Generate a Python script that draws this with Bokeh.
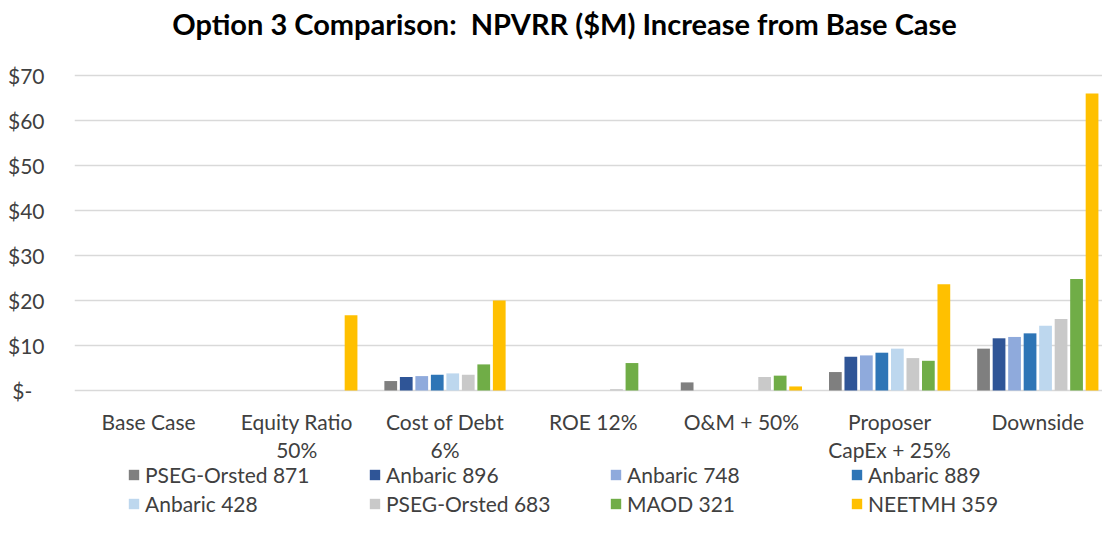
from bokeh.plotting import figure
from bokeh.models import Range1d, FixedTicker, Legend, LegendItem, ColumnDataSource
from bokeh.embed import file_html
from bokeh.resources import INLINE

# ---- data ----
categories = ["Base Case", "Equity Ratio\n50%", "Cost of Debt\n6%", "ROE 12%",
              "O&M + 50%", "Proposer\nCapEx + 25%", "Downside"]
series_names = ["PSEG-Orsted 871", "Anbaric 896", "Anbaric 748", "Anbaric 889",
                "Anbaric 428", "PSEG-Orsted 683", "MAOD 321", "NEETMH 359"]
pseg_orsted_871 = [0, 0, 2.1, 0, 1.8, 4.1, 9.3]
anbaric_896 = [0, 0, 3.0, 0, 0, 7.5, 11.6]
anbaric_748 = [0, 0, 3.2, 0, 0, 7.8, 11.9]
anbaric_889 = [0, 0, 3.5, 0, 0, 8.4, 12.7]
anbaric_428 = [0, 0, 3.8, 0, 0, 9.3, 14.4]
pseg_orsted_683 = [0, 0, 3.5, 0.3, 3.0, 7.2, 15.9]
maod_321 = [0, 0, 5.8, 6.1, 3.3, 6.6, 24.8]
neetmh_359 = [0, 16.7, 20.0, 0, 0.9, 23.6, 66.0]
series_values = [pseg_orsted_871, anbaric_896, anbaric_748, anbaric_889,
                 anbaric_428, pseg_orsted_683, maod_321, neetmh_359]
colors = ["#7f7f7f", "#2f5597", "#8faadc", "#2e75b6",
          "#bdd7ee", "#c9c9c9", "#70ad47", "#ffc000"]
y_ticks = [0, 10, 20, 30, 40, 50, 60, 70]
y_tick_labels = ["$-\u2007", "$10", "$20", "$30", "$40", "$50", "$60", "$70"]
title_text = "Option 3 Comparison:\u00a0 NPVRR ($M) Increase from Base Case"

FONT = "Lato"
TXT = "#404040"
STEP = 0.1046
BARW = 0.086
W, H = 1102, 544
LEFT = 74
PX_PER_CAT = 148.2
ZERO_Y, TOP_Y = 390, 75           # pixel rows of $0 and $70
PX_PER_UNIT = (ZERO_Y - TOP_Y) / 70.0

p = figure(width=W, height=H, output_backend="svg", toolbar_location=None,
           x_range=Range1d(0, (W - LEFT) / PX_PER_CAT),
           y_range=Range1d(-(H - ZERO_Y) / PX_PER_UNIT, 70 + TOP_Y / PX_PER_UNIT),
           min_border_left=LEFT, min_border_right=0, min_border_top=0,
           min_border_bottom=0)
p.outline_line_color = None
p.background_fill_color = "white"
p.xaxis.visible = False

items = []
for k, (name, vals, col) in enumerate(zip(series_names, series_values, colors)):
    xs = [i + 0.5 + (k - 3.5) * STEP for i in range(len(categories))]
    src = ColumnDataSource(dict(x=xs, top=vals))
    r = p.vbar(x="x", top="top", width=BARW, bottom=0, source=src,
               fill_color=col, line_color=None)
    items.append(LegendItem(label=name, renderers=[r]))

# category labels under the bars
cat_src = ColumnDataSource(dict(x=[i + 0.5 for i in range(len(categories))],
                                text=categories))
p.text(x="x", y=-4.0, text="text", source=cat_src, text_align="center",
       text_baseline="top", text_font_size="21px", text_color=TXT,
       text_line_height=1.12, text_font={"value": FONT})

# title
p.text(x=[(564 - LEFT) / PX_PER_CAT], y=[(ZERO_Y - 23) / PX_PER_UNIT],
       text=[title_text], text_align="center", text_baseline="middle",
       text_font_size="29px", text_font_style="bold", text_color="black",
       text_font={"value": FONT})

ya = p.yaxis[0]
ya.ticker = FixedTicker(ticks=y_ticks)
ya.major_label_overrides = {t: l for t, l in zip(y_ticks, y_tick_labels)}
ya.axis_line_color = None
ya.major_tick_line_color = None
ya.minor_tick_line_color = None
ya.major_label_text_font = FONT
ya.major_label_text_font_size = "21px"
ya.major_label_text_color = TXT
ya.major_label_standoff = 24

p.xgrid.visible = False
p.ygrid.grid_line_color = "#d9d9d9"
p.ygrid.grid_line_width = 1.5

legend = Legend(items=items, orientation="horizontal", ncols=4,
                location=(53, 28), padding=0, margin=0,
                border_line_color=None, background_fill_alpha=0,
                glyph_width=13, glyph_height=13, label_standoff=5,
                label_width=219, label_height=24, spacing=4,
                label_text_font=FONT, label_text_font_size="21px",
                label_text_color=TXT)
p.add_layout(legend)

open("out.html", "w").write(file_html(p, INLINE))
